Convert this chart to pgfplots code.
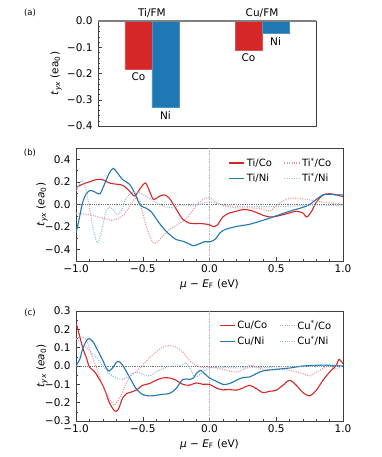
\documentclass[border=0pt]{standalone}
\usepackage{fontspec}
\setmainfont{DejaVu Sans}
\usepackage{pgfplots}
\pgfplotsset{compat=1.18}

\definecolor{tred}{HTML}{D62728}
\definecolor{tblue}{HTML}{1F77B4}
\colorlet{lred}{tred!50!white}
\colorlet{lblue}{tblue!50!white}

\newcommand{\tyx}{\textit{t}\textsubscript{\textit{yx}}}
\newcommand{\tkfont}{\fontsize{10.5}{12}\selectfont}

\pgfplotsset{
  panel/.style={
    scale only axis,
    tick align=inside,
    tick pos=left,
    axis line style={black!75},
    every tick/.style={black!75},
    major tick length=3.5pt,
    minor tick length=2pt,
    ticklabel style={font=\tkfont},
    yticklabel style={xshift=-2pt},
    label style={font=\tkfont},
  },
  curve/.style={smooth, tension=0.5, line width=1.1pt},
  dcurve/.style={smooth, tension=0.5, line width=1.1pt, dash pattern=on 1pt off 1.4pt},
  lpanel/.style={
    legend columns=2,
    legend cell align=left,
    legend style={draw=none, fill=none, font=\fontsize{10}{11}\selectfont,
      at={(axis description cs:0.975,0.95)}, anchor=north east,
      /tikz/every even column/.append style={column sep=10pt},
      row sep=1pt},
    legend image code/.code={\draw[#1, line width=1.2pt] (0pt,0pt) -- (15pt,0pt);},
  },
}

\begin{document}
\begin{tikzpicture}
\path[use as bounding box] (0,0) rectangle (381pt,457pt);

\node[font=\fontsize{8.5}{9}\selectfont] at (30pt,444pt) {(a)};
\node[font=\fontsize{8.5}{9}\selectfont] at (30pt,304pt) {(b)};
\node[font=\fontsize{8.5}{9}\selectfont] at (30pt,144pt) {(c)};

% y labels
\node[rotate=90, font=\tkfont] at (56pt,383.5pt) {\tyx\ (ea\textsubscript{0})};
\node[rotate=90, font=\tkfont] at (42pt,252.5pt) {\tyx\ (\textit{ea}\textsubscript{0})};
\node[rotate=90, font=\tkfont] at (42pt,91pt) {\tyx\ (\textit{ea}\textsubscript{0})};

% (a) bars
\begin{axis}[panel,
  at={(98pt,331pt)}, anchor=south west, width=218pt, height=105pt,
  xmin=-0.49, xmax=1.49, ymin=-0.4, ymax=0,
  xtick=\empty,
  ytick={-0.4,-0.3,-0.2,-0.1,0}, yticklabels={−0.4,−0.3,−0.2,−0.1,0.0},
  minor y tick num=4,
  clip=false,
]
\addplot[ybar, bar width=0.245, bar shift=0pt, fill=tred, draw=tred!80!white]
  coordinates {(-0.1227,-0.182) (0.8773,-0.113)};
\addplot[ybar, bar width=0.245, bar shift=0pt, fill=tblue, draw=tblue!80!white]
  coordinates {(0.1227,-0.330) (1.1227,-0.048)};
\addplot[gray, line width=1.2pt] coordinates {(-0.49,0) (1.49,0)};
\node[anchor=north, font=\tkfont] at (axis cs:-0.1227,-0.182) {Co};
\node[anchor=north, font=\tkfont] at (axis cs:0.1227,-0.330) {Ni};
\node[anchor=north, font=\tkfont] at (axis cs:0.8773,-0.113) {Co};
\node[anchor=north, font=\tkfont] at (axis cs:1.1227,-0.048) {Ni};
\node[anchor=south, font=\tkfont] at (axis cs:0,0) {Ti/FM};
\node[anchor=south, font=\tkfont] at (axis cs:1,0) {Cu/FM};
\end{axis}

% (b) Ti
\begin{axis}[panel, lpanel,
  at={(76pt,196pt)}, anchor=south west, width=267pt, height=113pt,
  xmin=-1, xmax=1, ymin=-0.5, ymax=0.5,
  xtick={-1,-0.5,0,0.5,1}, xticklabels={−1.0,−0.5,0.0,0.5,1.0},
  minor x tick num=4,
  ytick={-0.4,-0.2,0,0.2,0.4}, yticklabels={−0.4,−0.2,0.0,0.2,0.4},
  minor y tick num=1,
  xlabel={\textit{μ} − \textit{E}\textsubscript{F} (eV)},
]
\addplot[gray!55, line width=1.2pt, dash pattern=on 1pt off 0.6pt, forget plot] coordinates {(0,-0.5) (0,0.5)};
\addplot[black!55, line width=0.7pt, dash pattern=on 1pt off 0.8pt, forget plot] coordinates {(-1,0) (1,0)};
\addplot[curve, color=tred] coordinates {
(-1.0,0.15) (-0.95,0.18) (-0.9,0.20) (-0.85,0.22) (-0.8,0.22) (-0.75,0.19) (-0.7,0.18)
(-0.65,0.17) (-0.6,0.12) (-0.56,0.075) (-0.52,0.14) (-0.48,0.19) (-0.45,0.12)
(-0.42,0.045) (-0.38,0.07) (-0.34,0.085) (-0.3,0.055) (-0.25,-0.04) (-0.2,-0.13)
(-0.15,-0.165) (-0.1,-0.17) (-0.05,-0.17) (0,-0.18) (0.03,-0.195) (0.06,-0.18)
(0.1,-0.11) (0.15,-0.075) (0.2,-0.06) (0.25,-0.045) (0.3,-0.05) (0.35,-0.07)
(0.4,-0.095) (0.45,-0.11) (0.5,-0.105) (0.55,-0.09) (0.6,-0.075) (0.65,-0.06)
(0.7,-0.075) (0.73,-0.11) (0.77,-0.05) (0.8,0.02) (0.85,0.085) (0.9,0.095)
(0.95,0.085) (1.0,0.07)};
\addlegendentry{Ti/Co}
\addplot[dcurve, color=lred] coordinates {
(-1.0,-0.08) (-0.9,-0.09) (-0.8,-0.12) (-0.73,-0.14) (-0.68,-0.12) (-0.64,-0.09)
(-0.6,-0.02) (-0.56,0.05) (-0.53,0.055) (-0.5,-0.08) (-0.46,-0.24) (-0.42,-0.34)
(-0.39,-0.33) (-0.35,-0.28) (-0.3,-0.22) (-0.2,-0.15) (-0.15,-0.09) (-0.1,-0.01)
(-0.05,0.045) (0,0.06) (0.05,0.02) (0.1,-0.01) (0.2,-0.03) (0.3,-0.03) (0.4,-0.04)
(0.45,-0.06) (0.5,-0.01) (0.55,0.03) (0.6,0.055) (0.7,0.05) (0.8,0.03) (0.9,0.015) (1.0,0.0)};
\addlegendentry{Ti\textsuperscript{*}/Co}
\addplot[curve, color=tblue] coordinates {
(-1.0,-0.25) (-0.98,-0.15) (-0.95,0.02) (-0.92,0.10) (-0.89,0.125) (-0.85,0.105)
(-0.82,0.095) (-0.79,0.17) (-0.75,0.28) (-0.72,0.32) (-0.69,0.28) (-0.65,0.22)
(-0.6,0.18) (-0.56,0.10) (-0.52,-0.005) (-0.48,-0.03) (-0.44,-0.06) (-0.4,-0.125)
(-0.35,-0.205) (-0.3,-0.265) (-0.25,-0.31) (-0.2,-0.325) (-0.15,-0.35) (-0.12,-0.365)
(-0.08,-0.35) (-0.04,-0.33) (0,-0.33) (0.04,-0.31) (0.08,-0.25) (0.12,-0.22)
(0.2,-0.195) (0.3,-0.175) (0.4,-0.14) (0.5,-0.10) (0.6,-0.06) (0.7,-0.025)
(0.75,0.0) (0.8,0.045) (0.85,0.085) (0.9,0.09) (0.95,0.085) (1.0,0.085)};
\addlegendentry{Ti/Ni}
\addplot[dcurve, color=lblue] coordinates {
(-1.0,0.12) (-0.97,0.19) (-0.955,0.21) (-0.93,0.16) (-0.9,-0.02) (-0.87,-0.22)
(-0.84,-0.34) (-0.81,-0.25) (-0.78,-0.08) (-0.75,-0.02) (-0.72,-0.05) (-0.69,-0.09)
(-0.66,-0.05) (-0.63,0.04) (-0.6,0.09) (-0.55,0.11) (-0.5,0.09) (-0.45,0.055)
(-0.4,0.015) (-0.35,-0.012) (-0.3,-0.027) (-0.25,-0.02) (-0.2,-0.005) (-0.15,-0.012)
(-0.1,-0.005) (-0.05,0.01) (0,0.025) (0.05,0.01) (0.1,-0.005) (0.2,-0.015) (0.4,-0.02)
(0.6,-0.015) (0.8,-0.005) (1.0,-0.012)};
\addlegendentry{Ti\textsuperscript{*}/Ni}
\end{axis}

% (c) Cu
\begin{axis}[panel, lpanel,
  at={(76pt,36pt)}, anchor=south west, width=267pt, height=110pt,
  xmin=-1, xmax=1, ymin=-0.3, ymax=0.3,
  xtick={-1,-0.5,0,0.5,1}, xticklabels={−1.0,−0.5,0.0,0.5,1.0},
  minor x tick num=4,
  ytick={-0.3,-0.2,-0.1,0,0.1,0.2,0.3}, yticklabels={−0.3,−0.2,−0.1,0.0,0.1,0.2,0.3},
  minor y tick num=1,
  xlabel={\textit{μ} − \textit{E}\textsubscript{F} (eV)},
]
\addplot[gray!55, line width=1.2pt, dash pattern=on 1pt off 0.6pt, forget plot] coordinates {(0,-0.3) (0,0.3)};
\addplot[black!55, line width=0.7pt, dash pattern=on 1pt off 0.8pt, forget plot] coordinates {(-1,0) (1,0)};
\addplot[curve, color=tred] coordinates {
(-1.0,0.236) (-0.98,0.185) (-0.95,0.10) (-0.92,0.04) (-0.9,-0.005) (-0.87,-0.024)
(-0.85,-0.042) (-0.8,-0.105) (-0.77,-0.16) (-0.75,-0.20) (-0.72,-0.237) (-0.7,-0.247)
(-0.68,-0.232) (-0.65,-0.174) (-0.62,-0.15) (-0.6,-0.145) (-0.55,-0.132) (-0.5,-0.105)
(-0.45,-0.096) (-0.4,-0.078) (-0.35,-0.065) (-0.3,-0.065) (-0.25,-0.078) (-0.2,-0.10)
(-0.15,-0.105) (-0.1,-0.092) (-0.05,-0.10) (0,-0.10) (0.05,-0.12) (0.1,-0.13)
(0.15,-0.128) (0.2,-0.132) (0.25,-0.12) (0.3,-0.105) (0.35,-0.123) (0.4,-0.145)
(0.45,-0.138) (0.5,-0.132) (0.55,-0.105) (0.6,-0.078) (0.65,-0.105) (0.7,-0.145)
(0.75,-0.163) (0.8,-0.132) (0.85,-0.078) (0.9,-0.033) (0.95,0.004) (0.97,0.036) (1.0,0.013)};
\addlegendentry{Cu/Co}
\addplot[dcurve, color=lred] coordinates {
(-1.0,0.149) (-0.97,0.158) (-0.95,0.158) (-0.92,0.14) (-0.9,0.094) (-0.85,-0.005)
(-0.8,-0.105) (-0.75,-0.178) (-0.72,-0.21) (-0.7,-0.207) (-0.65,-0.14) (-0.6,-0.06)
(-0.55,-0.033) (-0.5,0.007) (-0.45,0.044) (-0.4,0.076) (-0.35,0.103) (-0.3,0.112)
(-0.25,0.103) (-0.2,0.076) (-0.15,0.031) (-0.1,0.004) (-0.05,-0.01) (0,-0.005)
(0.05,-0.01) (0.1,-0.018) (0.15,-0.027) (0.2,-0.033) (0.25,-0.02) (0.3,0.004)
(0.35,-0.005) (0.4,-0.018) (0.5,-0.018) (0.6,-0.024) (0.7,-0.042) (0.75,-0.054)
(0.8,-0.033) (0.85,-0.015) (0.9,0.004) (0.95,-0.018) (1.0,0.004)};
\addlegendentry{Cu\textsuperscript{*}/Co}
\addplot[curve, color=tblue] coordinates {
(-1.0,0.0) (-0.97,0.04) (-0.95,0.094) (-0.92,0.14) (-0.9,0.149) (-0.87,0.13)
(-0.85,0.103) (-0.8,0.031) (-0.77,-0.015) (-0.75,-0.027) (-0.72,-0.005) (-0.7,0.018)
(-0.68,0.025) (-0.65,0.004) (-0.6,-0.06) (-0.55,-0.123) (-0.5,-0.156) (-0.45,-0.163)
(-0.4,-0.16) (-0.35,-0.154) (-0.3,-0.15) (-0.25,-0.123) (-0.2,-0.073) (-0.15,-0.073)
(-0.12,-0.065) (-0.1,-0.042) (-0.07,-0.024) (-0.05,-0.033) (0,-0.065) (0.05,-0.083)
(0.1,-0.10) (0.15,-0.096) (0.2,-0.078) (0.25,-0.063) (0.3,-0.06) (0.35,-0.042)
(0.4,-0.027) (0.5,-0.018) (0.6,-0.011) (0.7,0.0) (0.8,0.004) (0.9,0.004) (1.0,0.0)};
\addlegendentry{Cu/Ni}
\addplot[dcurve, color=lblue] coordinates {
(-1.0,0.149) (-0.95,0.12) (-0.9,0.085) (-0.85,0.049) (-0.8,0.004) (-0.75,-0.042)
(-0.7,-0.065) (-0.65,-0.073) (-0.6,-0.054) (-0.55,-0.033) (-0.5,-0.045) (-0.45,-0.054)
(-0.4,-0.033) (-0.35,-0.015) (-0.3,-0.002) (-0.25,0.0) (-0.2,0.007) (-0.18,0.018)
(-0.15,-0.005) (-0.12,-0.05) (-0.1,-0.06) (-0.05,-0.033) (0,-0.011) (0.1,-0.008)
(0.2,-0.01) (0.4,-0.008) (0.5,-0.005) (0.7,-0.002) (0.8,0.0) (1.0,0.0)};
\addlegendentry{Cu\textsuperscript{*}/Ni}
\end{axis}
\end{tikzpicture}
\end{document}
